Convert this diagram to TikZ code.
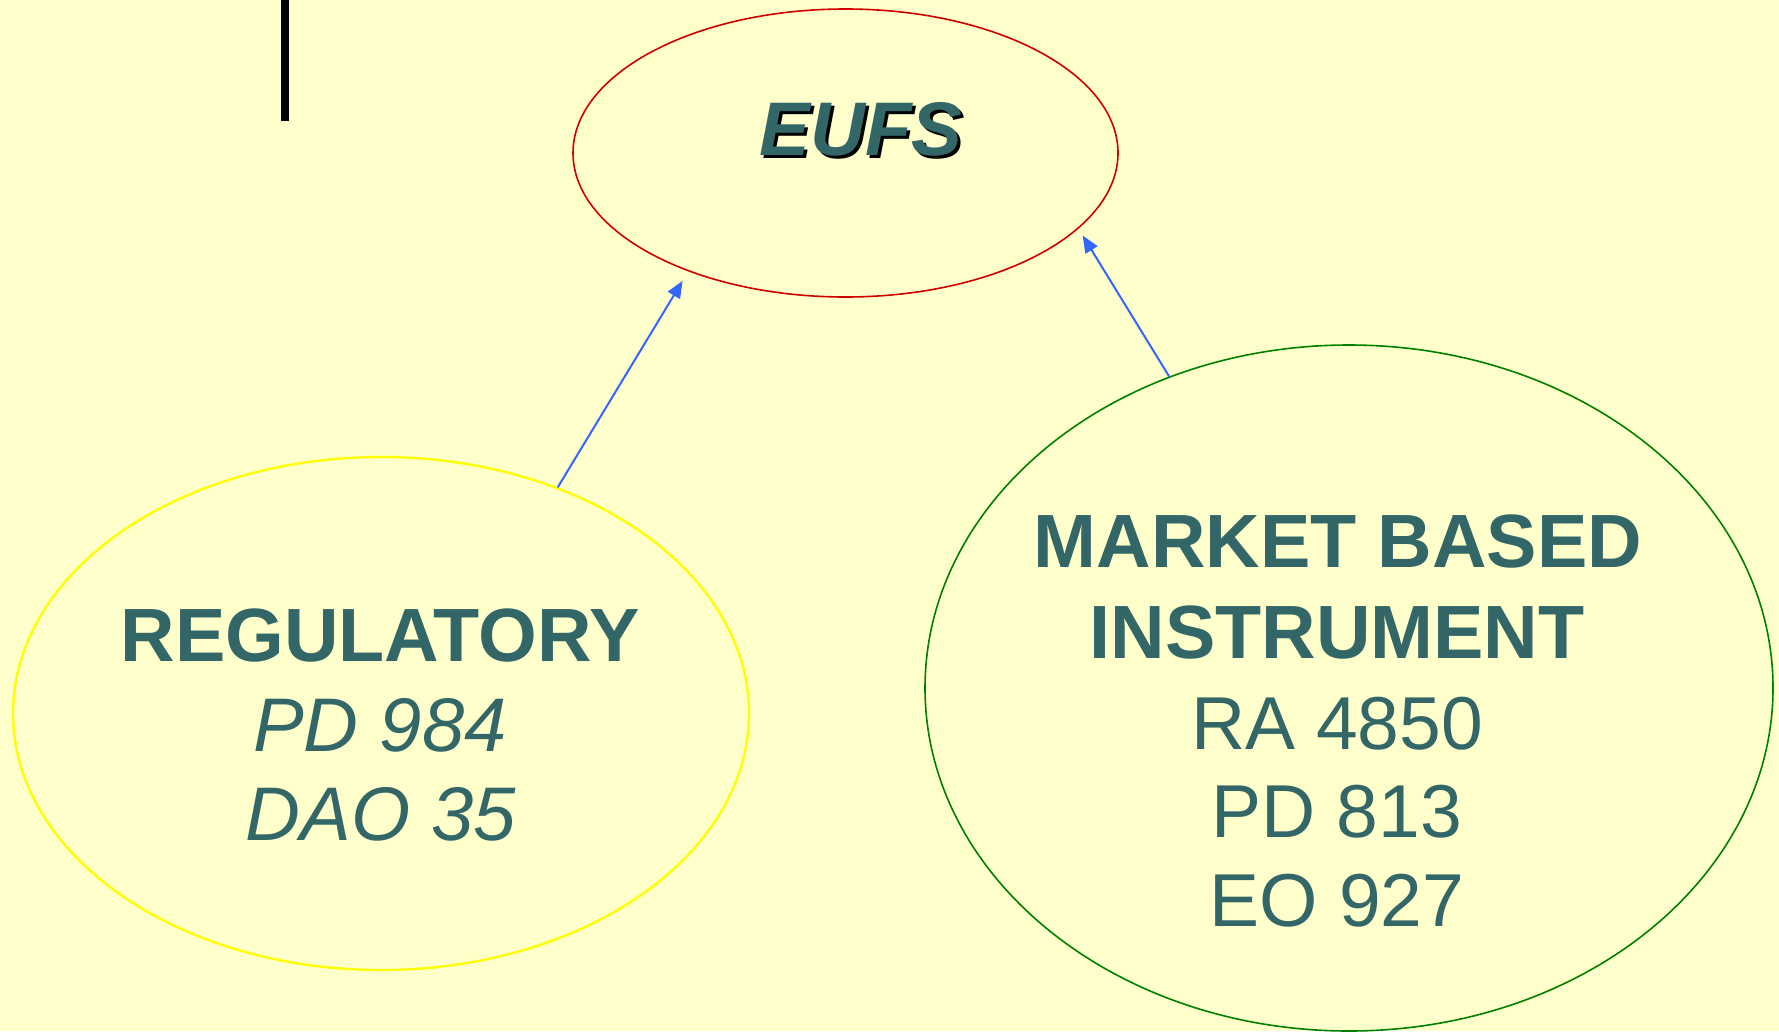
\documentclass[tikz,border=0pt]{standalone}
\usepackage{fontspec}
\setmainfont{Liberation Sans}
\usetikzlibrary{arrows.meta,shapes.geometric}
\definecolor{bg}{HTML}{FFFFCC}
\definecolor{txt}{HTML}{336666}
\definecolor{eufsred}{HTML}{D00000}
\definecolor{regyellow}{HTML}{FFFF00}
\definecolor{mktgreen}{HTML}{008000}
\definecolor{arrblue}{HTML}{3366FF}
\begin{document}
\begin{tikzpicture}[x=1pt,y=-1pt,
  oval/.style={ellipse, inner sep=0pt},
  arr/.style={draw=arrblue, line width=2pt, -{Triangle[length=17pt,width=14pt]}},
  bigtxt/.style={text=txt, anchor=base, inner sep=0pt, font=\fontsize{75}{88}\selectfont},
  headtxt/.style={bigtxt, font=\fontsize{75.5}{88}\selectfont\bfseries},
  ittxt/.style={bigtxt, font=\fontsize{76}{88}\selectfont\itshape}]
\fill[bg] (0,0) rectangle (1779,1031);
\useasboundingbox (0,0) rectangle (1779,1031);
\fill[black] (281,0) rectangle (289,121);
% ellipses
\node[oval, draw=eufsred, line width=1.6pt, minimum width=545pt, minimum height=288pt] (eufs) at (845.5,153) {};
\node[oval, draw=regyellow, line width=2.4pt, minimum width=736pt, minimum height=513pt] (reg) at (381,713.5) {};
\node[oval, draw=mktgreen, line width=1.6pt, minimum width=848pt, minimum height=686pt] (mkt) at (1349,688) {};
% texts
\node[bigtxt, text=black, font=\fontsize{76}{88}\selectfont\bfseries\itshape] (eufsshadow) at (864,158) {EUFS};
\node[bigtxt, font=\fontsize{76}{88}\selectfont\bfseries\itshape] (eufstxt) at (861,155) {EUFS};
\node[headtxt] (reg1) at (380,661.5) {REGULATORY};
\node[ittxt] (reg2) at (380,751) {PD 984};
\node[ittxt] (reg3) at (381,840) {DAO 35};
\node[headtxt] (mkt1) at (1338,567) {MARKET BASED};
\node[headtxt] (mkt2) at (1337,658) {INSTRUMENT};
\node[bigtxt] (mkt3) at (1337,749) {RA 4850};
\node[bigtxt] (mkt4) at (1337,837) {PD 813};
\node[bigtxt] (mkt5) at (1337,926) {EO 927};
% arrows
\draw[arr, shorten >=11pt] (reg.52) -- (eufs.217.4);
\draw[arr, shorten >=8pt] (mkt.120.7) -- (eufs.342.8);
\end{tikzpicture}
\end{document}
